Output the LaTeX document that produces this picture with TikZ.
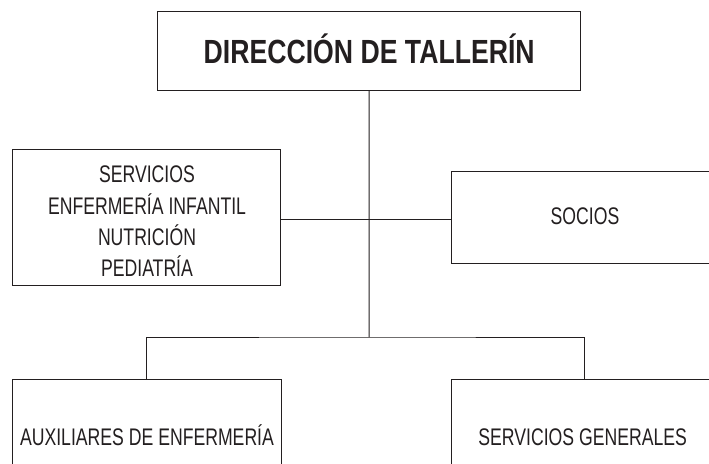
\documentclass[tikz,border=0pt]{standalone}
\usepackage{fontspec}
\setmainfont{Liberation Sans}
\newfontfamily\condreg[FakeStretch=0.735]{Liberation Sans}
\newfontfamily\condbold[FakeStretch=0.795]{Liberation Sans Bold}
\usetikzlibrary{calc}
\definecolor{ink}{HTML}{231F20}
\tikzset{
  boxnode/.style={draw=ink, line width=1pt, rectangle, inner sep=0pt},
  link/.style={draw=ink, line width=1pt},
  titletxt/.style={anchor=base, inner sep=0pt, text=ink, font=\condbold\fontsize{33.5}{36}\selectfont},
  bodytxt/.style={anchor=base, inner sep=0pt, text=ink, font=\condreg\fontsize{24}{31.3}\selectfont}
}
\begin{document}
\begin{tikzpicture}[x=1pt,y=-1pt]
\useasboundingbox (0,0) rectangle (709,463);
\clip (0,0) rectangle (709,463);
\fill[white] (0,0) rectangle (709,463);
% boxes
\node[boxnode, minimum width=423.2pt, minimum height=79pt] (top) at (369.1,51.2) {};
\node[boxnode, minimum width=267.3pt, minimum height=136.4pt] (left) at (146.35,217.5) {};
\node[boxnode, minimum width=265.3pt, minimum height=91.3pt] (socios) at (584.35,217.35) {};
\node[boxnode, minimum width=268.3pt, minimum height=101pt] (botleft) at (146.85,429.5) {};
\node[boxnode, minimum width=265.3pt, minimum height=101pt] (botright) at (584.35,429.5) {};
% texts
\node[titletxt] (toptxt) at (369.2,63.3) {DIRECCIÓN DE TALLERÍN};
\node[bodytxt] (l1) at (147,182.7) {SERVICIOS};
\node[bodytxt] (l2) at (147,214.0) {ENFERMERÍA INFANTIL};
\node[bodytxt] (l3) at (147,245.4) {NUTRICIÓN};
\node[bodytxt] (l4) at (147,276.7) {PEDIATRÍA};
\node[bodytxt] (sociostxt) at (585,224.6) {SOCIOS};
\node[bodytxt] (bltxt) at (147,445) {AUXILIARES DE ENFERMERÍA};
\node[bodytxt] (brtxt) at (582.7,445) {SERVICIOS GENERALES};
% connectors
\coordinate (hub) at (369.2,219.5);
\coordinate (jb) at (369.2,337);
\draw[link] (top.south) -- (jb);
\draw[link] (left.east |- hub) -- (socios.west |- hub);
\draw[link] (botleft.north) |- (jb) -| (botright.north);
\end{tikzpicture}
\end{document}
